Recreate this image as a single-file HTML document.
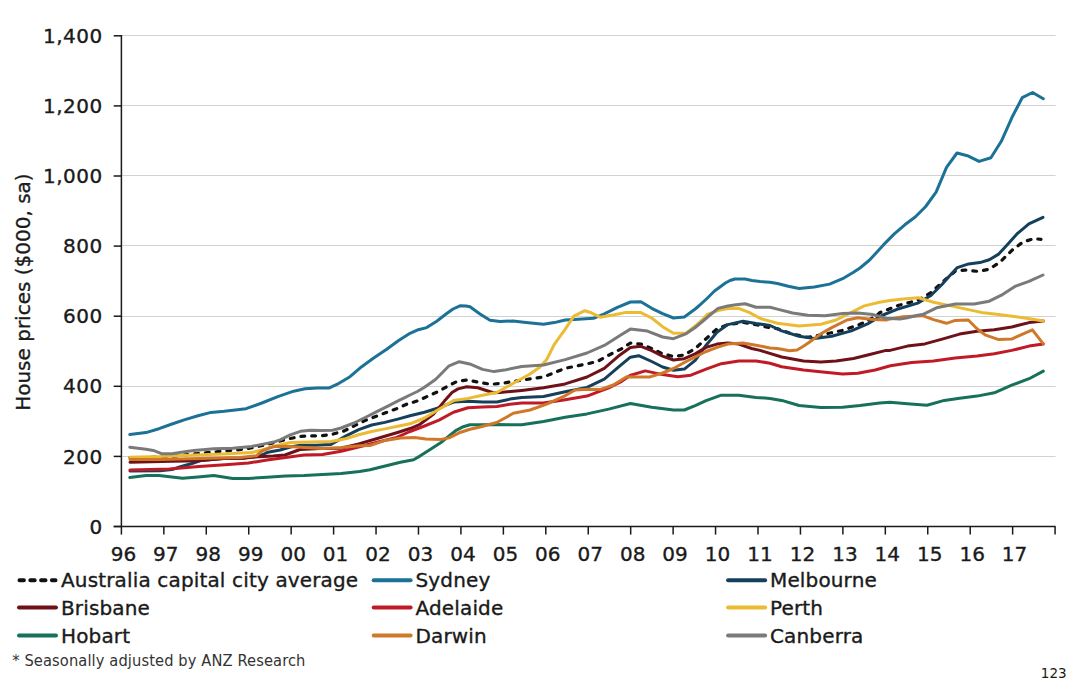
<!DOCTYPE html>
<html><head><meta charset="utf-8"><title>House prices</title>
<style>
html,body{margin:0;padding:0;background:#fff;width:1080px;height:690px;overflow:hidden}
.ax{font-family:"DejaVu Sans","Liberation Sans",sans-serif;font-size:20px;fill:#1a1a1a;stroke:#1a1a1a;stroke-width:0.35px}
.yl{letter-spacing:0.5px}
.lg{font-family:"DejaVu Sans","Liberation Sans",sans-serif;font-size:20px;fill:#1a1a1a;letter-spacing:0.15px;stroke:#1a1a1a;stroke-width:0.35px}
.fn{font-family:"DejaVu Sans Condensed","DejaVu Sans",sans-serif;font-stretch:condensed;font-size:16.3px;fill:#333;letter-spacing:0.12px}
.pg{font-family:"DejaVu Sans","Liberation Sans",sans-serif;font-size:13.5px;fill:#1a1a1a}
</style></head><body>
<svg width="1080" height="690" viewBox="0 0 1080 690" style="position:absolute;left:0;top:0"><line x1="121.4" y1="456.50" x2="1055.6" y2="456.50" stroke="#d2d2d2" stroke-width="1.1"/><line x1="121.4" y1="386.50" x2="1055.6" y2="386.50" stroke="#d2d2d2" stroke-width="1.1"/><line x1="121.4" y1="316.50" x2="1055.6" y2="316.50" stroke="#d2d2d2" stroke-width="1.1"/><line x1="121.4" y1="245.50" x2="1055.6" y2="245.50" stroke="#d2d2d2" stroke-width="1.1"/><line x1="121.4" y1="175.50" x2="1055.6" y2="175.50" stroke="#d2d2d2" stroke-width="1.1"/><line x1="121.4" y1="105.50" x2="1055.6" y2="105.50" stroke="#d2d2d2" stroke-width="1.1"/><line x1="121.4" y1="35.50" x2="1055.6" y2="35.50" stroke="#d2d2d2" stroke-width="1.1"/><text x="102.8" y="533.6" text-anchor="end" class="ax yl">0</text><line x1="113.7" y1="526.50" x2="121.4" y2="526.50" stroke="#1a1a1a" stroke-width="1.5"/><text x="102.8" y="463.5" text-anchor="end" class="ax yl">200</text><line x1="113.7" y1="456.40" x2="121.4" y2="456.40" stroke="#1a1a1a" stroke-width="1.5"/><text x="102.8" y="393.4" text-anchor="end" class="ax yl">400</text><line x1="113.7" y1="386.30" x2="121.4" y2="386.30" stroke="#1a1a1a" stroke-width="1.5"/><text x="102.8" y="323.3" text-anchor="end" class="ax yl">600</text><line x1="113.7" y1="316.20" x2="121.4" y2="316.20" stroke="#1a1a1a" stroke-width="1.5"/><text x="102.8" y="253.2" text-anchor="end" class="ax yl">800</text><line x1="113.7" y1="246.10" x2="121.4" y2="246.10" stroke="#1a1a1a" stroke-width="1.5"/><text x="102.8" y="183.1" text-anchor="end" class="ax yl">1,000</text><line x1="113.7" y1="176.00" x2="121.4" y2="176.00" stroke="#1a1a1a" stroke-width="1.5"/><text x="102.8" y="113.0" text-anchor="end" class="ax yl">1,200</text><line x1="113.7" y1="105.90" x2="121.4" y2="105.90" stroke="#1a1a1a" stroke-width="1.5"/><text x="102.8" y="42.9" text-anchor="end" class="ax yl">1,400</text><line x1="113.7" y1="35.80" x2="121.4" y2="35.80" stroke="#1a1a1a" stroke-width="1.5"/><line x1="121.4" y1="35.1" x2="121.4" y2="526.5" stroke="#1a1a1a" stroke-width="1.5"/><line x1="113.7" y1="526.5" x2="1055.6" y2="526.5" stroke="#1a1a1a" stroke-width="1.5"/><line x1="121.40" y1="526.5" x2="121.40" y2="534.6" stroke="#1a1a1a" stroke-width="1.5"/><line x1="163.84" y1="526.5" x2="163.84" y2="534.6" stroke="#1a1a1a" stroke-width="1.5"/><line x1="206.28" y1="526.5" x2="206.28" y2="534.6" stroke="#1a1a1a" stroke-width="1.5"/><line x1="248.72" y1="526.5" x2="248.72" y2="534.6" stroke="#1a1a1a" stroke-width="1.5"/><line x1="291.16" y1="526.5" x2="291.16" y2="534.6" stroke="#1a1a1a" stroke-width="1.5"/><line x1="333.60" y1="526.5" x2="333.60" y2="534.6" stroke="#1a1a1a" stroke-width="1.5"/><line x1="376.04" y1="526.5" x2="376.04" y2="534.6" stroke="#1a1a1a" stroke-width="1.5"/><line x1="418.48" y1="526.5" x2="418.48" y2="534.6" stroke="#1a1a1a" stroke-width="1.5"/><line x1="460.92" y1="526.5" x2="460.92" y2="534.6" stroke="#1a1a1a" stroke-width="1.5"/><line x1="503.36" y1="526.5" x2="503.36" y2="534.6" stroke="#1a1a1a" stroke-width="1.5"/><line x1="545.80" y1="526.5" x2="545.80" y2="534.6" stroke="#1a1a1a" stroke-width="1.5"/><line x1="588.24" y1="526.5" x2="588.24" y2="534.6" stroke="#1a1a1a" stroke-width="1.5"/><line x1="630.68" y1="526.5" x2="630.68" y2="534.6" stroke="#1a1a1a" stroke-width="1.5"/><line x1="673.12" y1="526.5" x2="673.12" y2="534.6" stroke="#1a1a1a" stroke-width="1.5"/><line x1="715.56" y1="526.5" x2="715.56" y2="534.6" stroke="#1a1a1a" stroke-width="1.5"/><line x1="758.00" y1="526.5" x2="758.00" y2="534.6" stroke="#1a1a1a" stroke-width="1.5"/><line x1="800.44" y1="526.5" x2="800.44" y2="534.6" stroke="#1a1a1a" stroke-width="1.5"/><line x1="842.88" y1="526.5" x2="842.88" y2="534.6" stroke="#1a1a1a" stroke-width="1.5"/><line x1="885.32" y1="526.5" x2="885.32" y2="534.6" stroke="#1a1a1a" stroke-width="1.5"/><line x1="927.76" y1="526.5" x2="927.76" y2="534.6" stroke="#1a1a1a" stroke-width="1.5"/><line x1="970.20" y1="526.5" x2="970.20" y2="534.6" stroke="#1a1a1a" stroke-width="1.5"/><line x1="1012.64" y1="526.5" x2="1012.64" y2="534.6" stroke="#1a1a1a" stroke-width="1.5"/><line x1="1055.08" y1="526.5" x2="1055.08" y2="534.6" stroke="#1a1a1a" stroke-width="1.5"/><text x="123.4" y="561" text-anchor="middle" class="ax">96</text><text x="165.8" y="561" text-anchor="middle" class="ax">97</text><text x="208.3" y="561" text-anchor="middle" class="ax">98</text><text x="250.7" y="561" text-anchor="middle" class="ax">99</text><text x="293.2" y="561" text-anchor="middle" class="ax">00</text><text x="335.6" y="561" text-anchor="middle" class="ax">01</text><text x="378.0" y="561" text-anchor="middle" class="ax">02</text><text x="420.5" y="561" text-anchor="middle" class="ax">03</text><text x="462.9" y="561" text-anchor="middle" class="ax">04</text><text x="505.4" y="561" text-anchor="middle" class="ax">05</text><text x="547.8" y="561" text-anchor="middle" class="ax">06</text><text x="590.2" y="561" text-anchor="middle" class="ax">07</text><text x="632.7" y="561" text-anchor="middle" class="ax">08</text><text x="675.1" y="561" text-anchor="middle" class="ax">09</text><text x="717.6" y="561" text-anchor="middle" class="ax">10</text><text x="760.0" y="561" text-anchor="middle" class="ax">11</text><text x="802.4" y="561" text-anchor="middle" class="ax">12</text><text x="844.9" y="561" text-anchor="middle" class="ax">13</text><text x="887.3" y="561" text-anchor="middle" class="ax">14</text><text x="929.8" y="561" text-anchor="middle" class="ax">15</text><text x="972.2" y="561" text-anchor="middle" class="ax">16</text><text x="1014.6" y="561" text-anchor="middle" class="ax">17</text><text transform="translate(29.6,292.1) rotate(-90)" text-anchor="middle" class="ax">House prices ($000, sa)</text><path d="M130.0,457.5 L150.0,457.5 L176.0,456.0 L190.4,454.4 L200.0,453.3 L223.3,451.1 L245.0,449.2 L265.0,445.0 L280.0,441.0 L288.3,438.9 L300.4,436.4 L310.6,435.9 L321.7,435.7 L332.9,434.1 L344.3,430.9 L354.8,425.6 L365.2,420.4 L375.6,416.5 L386.1,412.6 L396.5,408.7 L407.0,404.1 L417.4,400.9 L424.5,397.7 L439.0,391.2 L447.7,386.1 L457.8,381.0 L468.0,380.0 L479.6,382.5 L491.2,384.3 L502.8,383.2 L510.0,382.0 L521.7,380.2 L543.5,377.0 L565.2,368.3 L587.0,363.9 L597.8,361.3 L608.7,355.2 L621.7,348.7 L630.4,343.0 L640.9,344.1 L651.7,348.5 L662.6,353.9 L673.5,356.5 L684.3,355.0 L695.2,348.5 L706.1,338.7 L717.0,328.9 L727.8,324.6 L743.0,322.4 L756.1,324.6 L770.0,327.8 L777.4,328.7 L792.6,334.1 L807.8,337.4 L825.2,334.1 L842.6,330.4 L860.0,324.3 L875.2,316.7 L880.0,312.5 L898.8,305.3 L917.7,300.3 L930.9,292.7 L942.2,282.3 L955.4,271.0 L964.8,270.1 L978.0,271.4 L989.3,269.2 L1000.6,261.6 L1011.9,250.3 L1023.2,241.8 L1034.5,238.6 L1041.0,239.4" fill="none" stroke="#111111" stroke-width="3.2" stroke-linejoin="round" stroke-linecap="round" stroke-dasharray="3.8,7"/><path d="M129.8,434.6 L146.0,432.6 L159.0,428.7 L172.0,424.0 L185.0,419.6 L198.0,415.7 L211.0,412.4 L224.3,411.3 L237.4,409.8 L246.0,408.7 L261.9,403.0 L277.8,396.7 L293.7,391.2 L305.0,388.8 L317.6,388.0 L328.8,388.1 L339.0,383.3 L350.0,376.7 L361.7,366.7 L373.3,358.3 L386.7,349.2 L398.3,340.8 L410.0,333.3 L418.3,329.7 L426.7,327.6 L436.7,321.2 L446.7,313.5 L453.0,309.0 L460.0,305.8 L466.0,306.0 L470.0,306.8 L480.0,314.0 L490.0,320.3 L500.0,321.5 L513.0,321.0 L526.0,322.5 L543.5,324.3 L554.3,322.6 L565.2,320.0 L578.3,319.3 L593.5,318.3 L604.3,313.9 L617.4,307.4 L630.4,302.0 L640.9,301.7 L651.7,308.3 L662.6,313.7 L673.5,318.0 L684.3,317.0 L695.2,309.0 L700.0,304.8 L707.0,298.5 L714.5,291.0 L720.0,287.0 L725.4,283.0 L730.0,280.5 L734.8,279.0 L745.0,279.0 L752.0,280.5 L760.0,281.6 L770.0,282.2 L777.4,283.5 L788.3,286.3 L799.1,288.5 L814.3,287.0 L829.6,284.1 L842.6,278.7 L853.5,272.2 L860.0,268.0 L869.6,260.0 L883.9,244.4 L894.3,233.9 L904.8,224.8 L915.2,217.0 L925.7,206.5 L936.1,192.2 L946.5,167.4 L957.0,153.0 L967.4,155.7 L979.1,161.4 L990.9,157.7 L1001.3,141.3 L1011.8,117.8 L1022.2,97.7 L1032.6,92.5 L1043.3,98.8" fill="none" stroke="#1c7196" stroke-width="3.0" stroke-linejoin="round" stroke-linecap="round"/><path d="M130.0,471.0 L160.0,470.8 L172.0,469.5 L181.3,466.5 L192.0,463.5 L202.0,460.2 L212.0,459.4 L223.3,458.4 L235.0,458.2 L243.5,458.1 L251.5,457.0 L258.0,456.5 L263.0,454.5 L268.0,452.2 L280.1,450.0 L290.3,447.0 L300.4,445.3 L315.6,445.3 L330.9,444.5 L345.6,436.1 L358.7,429.6 L371.7,425.0 L384.8,422.4 L397.8,419.1 L410.0,415.8 L424.5,412.2 L439.0,407.8 L453.5,402.0 L468.0,401.3 L482.5,402.0 L497.0,402.0 L510.0,399.1 L521.7,397.6 L543.5,396.5 L565.2,391.7 L587.0,387.4 L604.3,379.1 L619.6,366.1 L630.4,357.2 L638.7,355.7 L651.7,361.5 L662.6,367.0 L673.5,370.2 L684.3,369.1 L695.2,360.4 L706.1,345.2 L717.0,332.2 L727.8,324.6 L743.0,321.3 L756.1,323.5 L770.0,325.5 L781.7,330.9 L799.1,336.3 L814.3,338.5 L831.7,336.3 L851.3,330.9 L868.7,323.3 L881.7,315.5 L898.8,308.7 L917.7,303.1 L930.9,295.5 L942.2,284.2 L949.7,275.8 L957.3,267.6 L968.6,263.9 L979.9,262.6 L989.3,259.7 L998.7,254.1 L1008.2,243.7 L1017.6,233.3 L1028.9,223.9 L1043.0,217.3" fill="none" stroke="#15405c" stroke-width="3.0" stroke-linejoin="round" stroke-linecap="round"/><path d="M130.0,462.2 L172.0,461.3 L199.0,460.7 L223.3,458.6 L243.5,458.3 L251.5,457.2 L273.0,456.0 L285.0,455.0 L300.0,449.5 L320.0,448.5 L341.1,448.3 L358.7,443.9 L378.1,438.3 L396.7,432.8 L410.9,428.3 L420.0,424.3 L433.3,414.4 L444.4,401.1 L452.0,392.5 L458.0,388.9 L466.7,386.7 L477.8,387.8 L493.3,392.7 L500.0,392.6 L521.7,390.4 L543.5,387.8 L565.2,383.9 L587.0,377.0 L604.3,368.3 L619.6,355.2 L630.4,347.6 L640.9,346.3 L651.7,350.7 L662.6,356.1 L673.5,360.0 L684.3,358.7 L695.2,353.9 L706.1,347.4 L717.0,344.1 L727.8,343.0 L738.7,344.1 L751.7,348.5 L760.0,350.4 L781.7,357.0 L803.5,361.0 L820.9,362.0 L836.1,361.0 L853.5,358.5 L868.7,354.8 L886.1,350.4 L890.0,350.4 L907.4,346.1 L924.8,343.9 L942.2,339.1 L959.6,334.1 L977.0,331.3 L994.3,329.8 L1011.7,327.0 L1029.1,322.6 L1043.3,321.1" fill="none" stroke="#6e1119" stroke-width="3.0" stroke-linejoin="round" stroke-linecap="round"/><path d="M130.0,469.9 L169.4,468.9 L199.0,466.5 L228.7,464.4 L248.5,463.0 L258.3,461.5 L267.0,460.0 L285.6,457.4 L304.1,455.0 L322.6,454.4 L341.1,451.3 L359.6,446.7 L378.1,442.0 L396.7,437.4 L410.0,431.5 L424.5,426.0 L439.0,420.1 L453.5,412.2 L468.0,407.8 L482.5,407.1 L497.0,406.4 L510.0,404.2 L521.7,403.0 L543.5,403.0 L565.2,399.8 L587.0,396.1 L608.7,387.8 L621.7,381.3 L630.0,375.5 L645.2,370.9 L662.6,374.6 L677.8,376.7 L690.9,375.2 L706.1,369.1 L721.3,363.7 L738.7,360.9 L756.1,360.9 L770.0,363.2 L781.7,366.7 L803.5,370.0 L825.2,372.2 L842.6,373.9 L857.8,373.3 L875.2,370.0 L890.4,365.7 L911.7,362.4 L933.5,360.9 L955.2,358.0 L977.0,355.9 L994.3,353.7 L1011.7,350.4 L1029.1,346.1 L1043.3,343.9" fill="none" stroke="#c01a26" stroke-width="3.0" stroke-linejoin="round" stroke-linecap="round"/><path d="M130.0,457.3 L160.0,456.6 L195.0,455.0 L223.3,453.9 L251.5,452.5 L262.0,450.0 L275.0,446.0 L290.3,442.5 L310.6,442.0 L330.9,441.4 L345.6,438.7 L358.7,434.8 L371.7,431.5 L384.8,428.9 L397.8,426.3 L410.0,423.8 L424.5,418.0 L439.0,409.3 L453.5,400.6 L468.0,398.4 L480.0,395.8 L496.7,392.5 L513.3,383.3 L530.0,374.0 L540.0,367.0 L546.7,359.5 L554.3,344.3 L565.2,329.1 L573.9,316.1 L584.8,310.7 L591.3,312.8 L600.0,317.2 L613.0,315.0 L626.1,312.4 L640.9,312.6 L651.7,318.0 L662.6,326.7 L673.5,333.3 L686.4,333.0 L695.2,326.0 L703.6,318.5 L707.2,314.5 L718.0,310.6 L727.8,308.5 L734.8,308.4 L738.7,308.3 L749.6,312.6 L760.4,318.5 L777.4,323.3 L799.1,326.1 L820.9,324.3 L836.1,320.0 L851.3,312.4 L864.3,305.9 L879.6,302.2 L890.0,300.4 L903.0,298.9 L918.3,297.8 L933.5,302.2 L950.9,305.9 L966.1,309.1 L981.3,312.4 L998.7,314.6 L1016.1,316.7 L1031.3,318.9 L1043.3,321.1" fill="none" stroke="#ebbc33" stroke-width="3.0" stroke-linejoin="round" stroke-linecap="round"/><path d="M129.8,477.5 L146.0,475.4 L159.0,475.5 L182.6,478.3 L198.0,477.0 L213.8,475.6 L232.7,478.4 L248.5,478.5 L267.0,477.2 L285.6,475.9 L304.1,475.4 L322.6,474.4 L341.1,473.5 L359.6,471.5 L370.0,469.8 L380.1,467.3 L390.3,464.8 L400.4,462.2 L413.6,459.7 L420.7,455.6 L430.9,449.0 L441.0,442.5 L449.1,435.9 L456.2,430.3 L463.3,426.7 L470.0,424.7 L482.5,424.8 L497.0,424.5 L521.7,424.8 L543.5,421.5 L565.2,417.2 L587.0,413.9 L608.7,409.1 L630.4,403.5 L651.7,407.2 L673.5,410.0 L684.3,410.0 L695.2,405.7 L706.1,400.7 L721.3,395.2 L738.7,395.2 L756.1,397.4 L770.0,398.5 L781.7,400.4 L799.1,405.5 L820.9,407.5 L842.6,407.3 L860.0,405.5 L879.6,403.0 L890.0,402.2 L907.4,403.7 L927.0,405.2 L944.3,400.4 L959.6,398.3 L977.0,396.1 L994.3,392.8 L1011.7,385.2 L1029.1,378.7 L1043.3,371.1" fill="none" stroke="#177059" stroke-width="3.0" stroke-linejoin="round" stroke-linecap="round"/><path d="M130.0,459.6 L160.0,459.4 L200.0,458.5 L240.0,457.4 L256.3,455.8 L262.0,451.0 L268.5,448.3 L275.0,446.4 L285.6,446.3 L304.1,447.6 L322.6,448.5 L341.1,447.6 L359.6,445.7 L370.0,445.5 L385.2,440.4 L400.4,437.9 L414.6,437.4 L425.8,438.9 L441.0,439.4 L449.1,437.9 L459.2,432.8 L470.0,429.3 L480.0,427.0 L496.7,422.5 L505.0,418.0 L513.3,413.3 L530.0,410.0 L546.7,404.2 L563.3,396.7 L575.0,390.0 L588.3,389.2 L600.0,389.6 L613.3,385.0 L626.7,376.7 L638.3,377.0 L650.0,376.9 L662.6,373.0 L673.5,368.5 L684.3,362.5 L695.2,357.0 L706.1,351.5 L717.0,347.3 L727.8,344.1 L743.0,343.0 L756.1,345.2 L770.0,348.0 L777.4,348.5 L789.6,350.7 L797.0,350.0 L803.0,346.5 L811.9,340.4 L822.2,333.0 L831.7,327.6 L847.0,320.0 L857.8,317.8 L873.0,319.6 L886.1,320.0 L890.0,318.9 L903.0,316.7 L922.6,315.7 L933.5,319.6 L946.5,323.3 L955.2,320.4 L968.3,320.0 L977.0,328.7 L985.7,335.2 L998.7,339.6 L1011.7,339.1 L1022.6,334.1 L1032.4,329.8 L1043.3,343.9" fill="none" stroke="#d07829" stroke-width="3.0" stroke-linejoin="round" stroke-linecap="round"/><path d="M129.8,447.2 L146.0,449.3 L153.3,450.4 L161.5,453.7 L172.0,453.7 L183.0,451.9 L194.0,450.4 L213.8,448.7 L232.7,448.3 L251.5,446.4 L265.7,443.6 L275.0,441.7 L280.1,439.9 L290.3,434.8 L300.4,431.3 L310.6,430.3 L320.7,430.5 L332.6,430.2 L341.0,428.0 L354.0,423.0 L365.2,417.5 L376.3,411.8 L387.4,406.3 L398.5,400.7 L404.3,397.8 L410.0,395.0 L417.4,391.5 L424.5,387.3 L435.5,379.5 L439.0,376.0 L449.1,365.8 L459.3,361.7 L470.9,364.3 L482.5,369.4 L494.1,371.6 L504.2,370.1 L521.7,366.5 L543.5,365.0 L565.2,359.6 L587.0,353.0 L604.3,345.4 L619.6,335.7 L630.4,329.1 L647.4,331.1 L662.6,337.0 L673.5,338.7 L686.4,333.6 L695.2,327.5 L703.6,320.5 L710.0,315.0 L718.0,308.4 L727.8,306.0 L736.0,304.8 L745.0,303.7 L756.1,307.2 L770.0,307.3 L777.4,309.1 L792.6,313.0 L807.8,315.2 L825.2,315.7 L842.6,313.5 L857.8,313.0 L873.0,314.6 L886.1,318.3 L900.0,318.9 L907.4,317.8 L917.7,315.3 L922.6,314.6 L936.5,307.8 L955.4,304.0 L974.2,304.0 L989.3,301.2 L1002.5,294.6 L1015.7,286.1 L1028.9,281.4 L1043.0,275.0" fill="none" stroke="#7a7a7a" stroke-width="3.0" stroke-linejoin="round" stroke-linecap="round"/><line x1="19.5" y1="580.2" x2="55.5" y2="580.2" stroke="#111" stroke-width="4" stroke-linecap="round" stroke-dasharray="4.4,6.4"/><text x="61.0" y="586.7" class="lg">Australia capital city average</text><line x1="19.0" y1="607.4" x2="56.0" y2="607.4" stroke="#6e1119" stroke-width="4" stroke-linecap="round"/><text x="61.0" y="614.7" class="lg">Brisbane</text><line x1="19.0" y1="635.5" x2="56.0" y2="635.5" stroke="#177059" stroke-width="4" stroke-linecap="round"/><text x="61.0" y="642.5" class="lg">Hobart</text><line x1="373.7" y1="580.2" x2="410.6" y2="580.2" stroke="#1c7196" stroke-width="4" stroke-linecap="round"/><text x="415.5" y="586.7" class="lg">Sydney</text><line x1="373.7" y1="607.4" x2="410.6" y2="607.4" stroke="#c01a26" stroke-width="4" stroke-linecap="round"/><text x="415.5" y="614.7" class="lg">Adelaide</text><line x1="373.7" y1="635.5" x2="410.6" y2="635.5" stroke="#d07829" stroke-width="4" stroke-linecap="round"/><text x="415.5" y="642.5" class="lg">Darwin</text><line x1="728.1" y1="580.2" x2="765.1" y2="580.2" stroke="#15405c" stroke-width="4" stroke-linecap="round"/><text x="770.0" y="586.7" class="lg">Melbourne</text><line x1="728.1" y1="607.4" x2="765.1" y2="607.4" stroke="#ebbc33" stroke-width="4" stroke-linecap="round"/><text x="770.0" y="614.7" class="lg">Perth</text><line x1="728.1" y1="635.5" x2="765.1" y2="635.5" stroke="#7a7a7a" stroke-width="4" stroke-linecap="round"/><text x="770.0" y="642.5" class="lg">Canberra</text><text x="12.2" y="666.4" class="fn">* Seasonally adjusted by ANZ Research</text><text x="1066.6" y="677.8" text-anchor="end" class="pg">123</text></svg>
</body></html>
